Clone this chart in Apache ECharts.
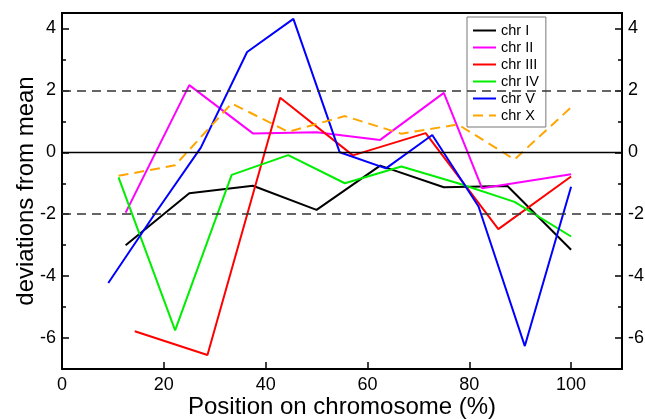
<!DOCTYPE html>
<html lang="en">
<head>
<meta charset="UTF-8">
<title>deviations from mean</title>
<script src="https://cdn.jsdelivr.net/npm/echarts@6/dist/echarts.min.js"></script>
</head>
<body style="margin:0;background:#fff">
<div id="main" style="width:645px;height:419px;"></div>
<script>
// x positions (% of chromosome) and values
const chrI_x = [12.5, 25, 37.5, 50, 62.5, 75, 87.5, 100];
const chrI_y = [-3.0, -1.32, -1.08, -1.86, -0.43, -1.13, -1.09, -3.15];

const chrII_x = [12.5, 25, 37.5, 50, 62.5, 75, 82.5, 100];
const chrII_y = [-1.95, 2.17, 0.61, 0.65, 0.4, 1.92, -1.16, -0.71];

const chrIII_x = [14.29, 28.57, 42.86, 57.14, 71.43, 85.71, 100];
const chrIII_y = [-5.78, -6.55, 1.76, -0.1, 0.62, -2.48, -0.78];

const chrIV_x = [11.11, 22.22, 33.33, 44.44, 55.56, 66.67, 77.78, 88.89, 100];
const chrIV_y = [-0.81, -5.75, -0.73, -0.09, -1.0, -0.46, -1.0, -1.6, -2.72];

const chrV_x = [9.09, 18.18, 27.27, 36.36, 45.45, 54.55, 63.64, 72.73, 81.82, 90.91, 100];
const chrV_y = [-4.22, -2.0, 0.15, 3.24, 4.31, 0.0, -0.52, 0.56, -1.75, -6.26, -1.11];

const chrX_x = [11.11, 22.22, 33.33, 44.44, 55.56, 66.67, 77.78, 88.89, 100];
const chrX_y = [-0.76, -0.42, 1.58, 0.66, 1.17, 0.6, 0.9, -0.23, 1.45];

const xTicks = [0, 20, 40, 60, 80, 100];
const majorTicks = [-6, -4, -2, 0, 2, 4];
const minorTicks = [-5, -3, -1, 1, 3];

const font = "'Liberation Sans', Arial, sans-serif";

function pairs(xs, ys) {
  return xs.map((x, i) => [x, ys[i]]);
}

function yAx(pos, ticks, len, labels) {
  return {
    type: 'value', position: pos, min: -7, max: 4.5,
    axisLine: { show: true, onZero: false, lineStyle: { color: '#000', width: 2 } },
    axisTick: { show: true, inside: true, length: len, customValues: ticks,
                lineStyle: { color: '#000', width: 1.5 } },
    axisLabel: { show: labels, customValues: ticks, color: '#000', fontSize: 18,
                 fontFamily: font, margin: 6 },
    splitLine: { show: false }
  };
}

var myChart = echarts.init(document.getElementById('main'));

var yLeft = yAx('left', majorTicks, 7, true);
yLeft.name = 'deviations from mean';
yLeft.nameLocation = 'middle';
yLeft.nameGap = 24;
yLeft.nameMoveOverlap = false;
yLeft.nameTextStyle = { color: '#000', fontSize: 24, fontFamily: font };

function line(name, xs, ys, color, dashed) {
  return {
    name: name, type: 'line', data: pairs(xs, ys), symbol: 'none',
    lineStyle: { color: color, width: 2, type: dashed ? [10, 6] : 'solid' },
    itemStyle: { color: color },
    z: 3
  };
}

var series = [
  line('chr I', chrI_x, chrI_y, '#000000'),
  line('chr II', chrII_x, chrII_y, '#ff00ff'),
  line('chr III', chrIII_x, chrIII_y, '#ff0000'),
  line('chr IV', chrIV_x, chrIV_y, '#00ee00'),
  line('chr V', chrV_x, chrV_y, '#0000ff'),
  line('chr X', chrX_x, chrX_y, '#ffa500', true)
];

// reference lines at 0 and +/-2
series[0].markLine = {
  silent: true, symbol: 'none', label: { show: false }, animation: false,
  data: [
    { yAxis: 2, lineStyle: { color: '#333', width: 1.5, type: [9, 6] } },
    { yAxis: -2, lineStyle: { color: '#333', width: 1.5, type: [9, 6] } },
    { yAxis: 0, lineStyle: { color: '#000', width: 1.3, type: 'solid' } }
  ]
};

var option = {
  animation: false,
  grid: { left: 62, right: 23, top: 13, bottom: 50, show: true,
          outerBoundsMode: 'none', containLabel: false,
          borderColor: '#000', borderWidth: 2 },
  legend: {
    orient: 'vertical', left: 467, top: 17,
    padding: [6, 7, 4, 5], itemGap: 2, itemWidth: 23, itemHeight: 10,
    backgroundColor: '#fff', borderColor: '#777', borderWidth: 1,
    itemStyle: { opacity: 0 },
    textStyle: { color: '#000', fontSize: 14.5, lineHeight: 14.5, fontFamily: font },
    data: ['chr I', 'chr II', 'chr III', 'chr IV', 'chr V', 'chr X']
  },
  xAxis: [{
    type: 'value', min: 0, max: 110, interval: 20,
    name: 'Position on chromosome (%)', nameLocation: 'middle', nameGap: 26,
    nameMoveOverlap: false,
    nameTextStyle: { color: '#000', fontSize: 24, fontFamily: font },
    axisLine: { show: true, onZero: false, lineStyle: { color: '#000', width: 2 } },
    axisTick: { show: true, inside: true, length: 7, customValues: xTicks,
                lineStyle: { color: '#000', width: 1.5 } },
    axisLabel: { color: '#000', fontSize: 18, fontFamily: font, margin: 7,
                 customValues: xTicks },
    splitLine: { show: false }
  }],
  yAxis: [
    yLeft,
    yAx('left', minorTicks, 4, false),
    yAx('right', majorTicks, 7, true),
    yAx('right', minorTicks, 4, false)
  ],
  series: series
};

myChart.setOption(option);
</script>
</body>
</html>
